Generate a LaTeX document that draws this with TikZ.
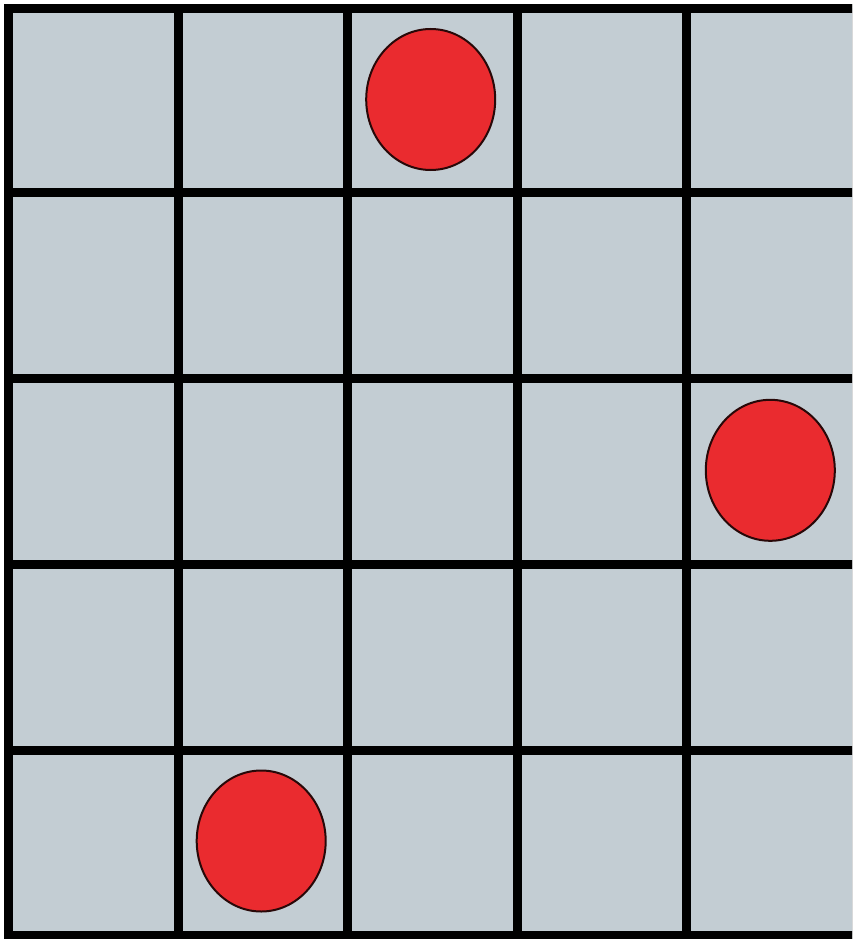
\documentclass[tikz,border=0pt]{standalone}
\usetikzlibrary{shapes.geometric}
\definecolor{cellgrey}{RGB}{195,205,211}
\definecolor{dotred}{RGB}{234,43,47}
\definecolor{dotline}{RGB}{40,8,8}
\tikzset{
  gridline/.style={line width=9pt, black, line cap=rect},
  piece/.style={ellipse, draw=dotline, fill=dotred, line width=2pt, inner sep=0pt, minimum width=129pt, minimum height=141pt}
}
\begin{document}
\begin{tikzpicture}[x=1pt,y=-1pt]
\useasboundingbox (0,0) rectangle (852,939);
\fill[white] (0,0) rectangle (852,939);
\clip (0,0) rectangle (852,939);
\fill[cellgrey] (8.5,8.5) rectangle (856,935);
\foreach \x in {8.5,178,347.5,517.5,686.5,856}
  \draw[gridline] (\x,8.5) -- (\x,935);
\foreach \y in {8.5,192,378.5,564.5,750,935}
  \draw[gridline] (8.5,\y) -- (856,\y);
\node[piece] (c1) at (430.7,99.5) {};
\node[piece] (c2) at (770.3,470.3) {};
\node[piece] (c3) at (261.2,841) {};
\end{tikzpicture}
\end{document}
